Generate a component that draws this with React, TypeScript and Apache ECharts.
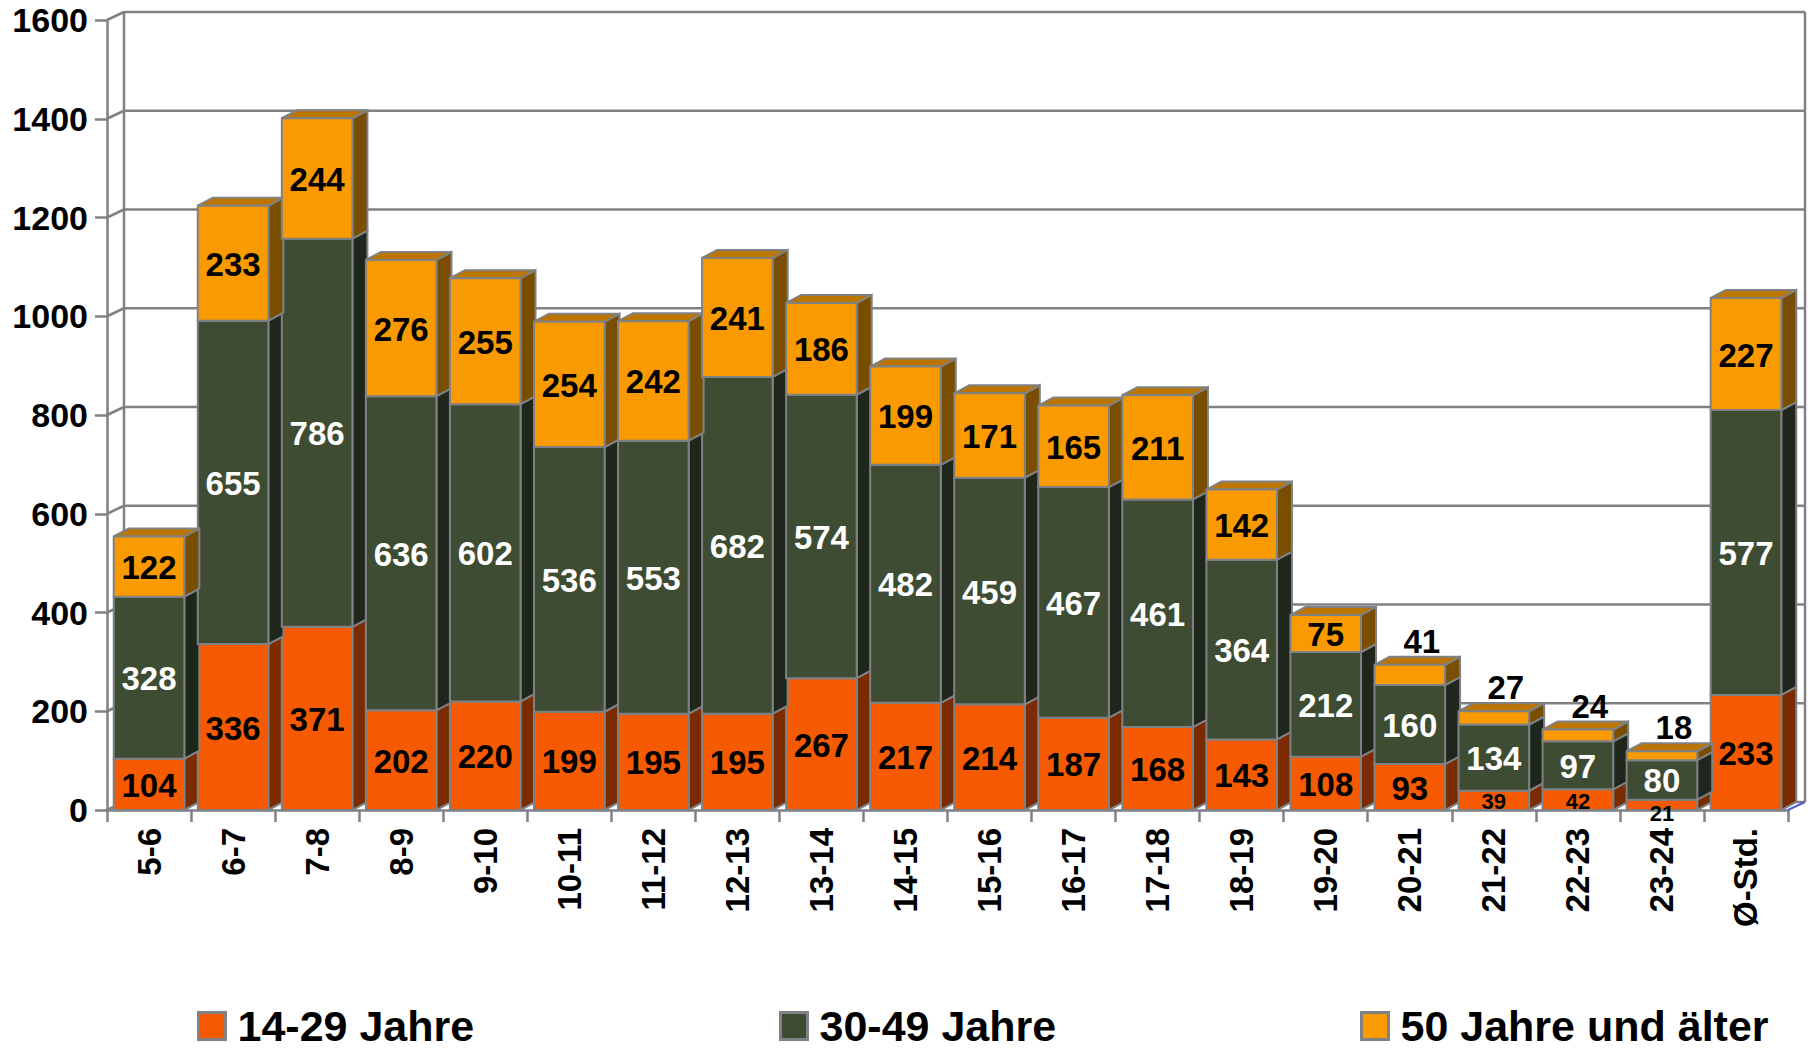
import React, { useEffect, useRef } from "react";
import * as echarts from "echarts";

const categories = ["5-6","6-7","7-8","8-9","9-10","10-11","11-12","12-13","13-14","14-15","15-16","16-17","17-18","18-19","19-20","20-21","21-22","22-23","23-24","Ø-Std."];
const age14to29 = [104,336,371,202,220,199,195,195,267,217,214,187,168,143,108,93,39,42,21,233];
const age30to49 = [328,655,786,636,602,536,553,682,574,482,459,467,461,364,212,160,134,97,80,577];
const age50plus = [122,233,244,276,255,254,242,241,186,199,171,165,211,142,75,41,27,24,18,227];
const seriesNames = ["14-29 Jahre", "30-49 Jahre", "50 Jahre und älter"];
const yTicks = [0,200,400,600,800,1000,1200,1400,1600];

const FONT = "'Liberation Sans', Arial, sans-serif";
const GRID = "#7f8184";
const WX = 17, WY = -8;   // wall depth
const BX = 15, BY = -8;   // bar depth

const styles = [
  { front: "#F55A00", side: "#7A2C00", top: "#B04000", label: "#000000" },
  { front: "#3E4C33", side: "#1F271C", top: "#2A3524", label: "#FFFFFF" },
  { front: "#F99B00", side: "#7A4E00", top: "#BC7600", label: "#000000" },
];

function buildSeriesData(k: number) {
  const all = [age14to29, age30to49, age50plus];
  return categories.map((_, i) => {
    let base = 0;
    for (let j = 0; j < k; j++) base += all[j][i];
    return [i, base, all[k][i]];
  });
}

function makeBarRender(k: number) {
  const st = styles[k];
  return (params: any, api: any) => {
    const i = api.value(0);
    const base = api.value(1);
    const val = api.value(2);
    const pB = api.coord([i, base]);
    const pT = api.coord([i, base + val]);
    const bw = api.size([1, 0])[0] * 0.84;
    const xl = pB[0] - bw / 2;
    const xr = pB[0] + bw / 2;
    const yb = pB[1];
    const yt = pT[1];
    const isTop = k === 2;
    const children: any[] = [];
    children.push({
      type: "polygon",
      shape: { points: [[xr, yb], [xr + BX, yb + BY], [xr + BX, yt + BY], [xr, yt]] },
      style: { fill: st.side, stroke: GRID, lineWidth: 2 },
    });
    if (isTop) {
      children.push({
        type: "polygon",
        shape: { points: [[xl, yt], [xr, yt], [xr + BX, yt + BY], [xl + BX, yt + BY]] },
        style: { fill: st.top, stroke: GRID, lineWidth: 2 },
      });
    }
    children.push({
      type: "rect",
      shape: { x: xl, y: yt, width: bw, height: yb - yt },
      style: { fill: st.front, stroke: GRID, lineWidth: 2 },
    });
    const h = yb - yt;
    const cx = pB[0];
    if (h >= 26) {
      children.push({
        type: "text",
        x: cx, y: (yb + yt) / 2 + 1,
        style: { text: String(val), fill: st.label, fontSize: 33, fontWeight: "bold", fontFamily: FONT, align: "center", verticalAlign: "middle" },
      });
    } else if (k === 2) {
      children.push({
        type: "text",
        x: cx + 12, y: yt + BY + 1,
        style: { text: String(val), fill: "#000", fontSize: 33, fontWeight: "bold", fontFamily: FONT, align: "center", verticalAlign: "bottom" },
      });
    } else {
      const yy = h < 15 ? yb + 3 : Math.max((yb + yt) / 2 + 1, yb - 9);
      children.push({
        type: "text",
        x: cx, y: yy,
        style: { text: String(val), fill: st.label, fontSize: 22, fontWeight: "bold", fontFamily: FONT, align: "center", verticalAlign: "middle" },
      });
    }
    return { type: "group", children };
  };
}

function renderWall(params: any, api: any) {
  const cs = params.coordSys;
  const v = api.value(1);
  const y = api.coord([0, v])[1];
  const x0 = cs.x;
  const x1 = cs.x + cs.width;
  const children: any[] = [
    { type: "line", shape: { x1: x0, y1: y, x2: x0 + WX, y2: y + WY }, style: { stroke: GRID, lineWidth: 2.5 } },
    { type: "line", shape: { x1: x0 + WX, y1: y + WY, x2: x1 + WX, y2: y + WY }, style: { stroke: GRID, lineWidth: 2.5 } },
  ];
  if (params.dataIndex === 0) {
    const yTop = cs.y;
    children.push({ type: "line", shape: { x1: x0 + WX, y1: y + WY, x2: x0 + WX, y2: yTop + WY }, style: { stroke: GRID, lineWidth: 2.5 } });
    children.push({ type: "line", shape: { x1: x1 + WX, y1: y + WY, x2: x1 + WX, y2: yTop + WY }, style: { stroke: GRID, lineWidth: 2.5 } });
    children.push({ type: "line", shape: { x1: x1, y1: y, x2: x1 + WX, y2: y + WY }, style: { stroke: "#5b5bd0", lineWidth: 2 } });
  }
  return { type: "group", children };
}

export default function App() {
  const ref = useRef<HTMLDivElement>(null);
  useEffect(() => {
    if (!ref.current) return;
    const chart = echarts.init(ref.current, undefined, { renderer: "svg" });
    const legendBase = {
      top: 1003,
      padding: 0,
      itemWidth: 27,
      itemHeight: 27,
      icon: "rect",
      selectedMode: false,
      textStyle: { fontSize: 43, lineHeight: 46, fontWeight: "bold", fontFamily: FONT, color: "#000", padding: [0, 0, 0, 7] },
    };
    const legendLefts = [197, 779, 1360];
    chart.setOption({
      animation: false,
      backgroundColor: "#ffffff",
      grid: { left: 107, right: 28, top: 20, bottom: 240, containLabel: false },
      legend: seriesNames.map((n, k) => ({
        ...legendBase,
        left: legendLefts[k],
        data: [{ name: n, itemStyle: { color: styles[k].front, borderColor: GRID, borderWidth: 3 } }],
      })),
      xAxis: {
        type: "category",
        data: categories,
        boundaryGap: true,
        axisLine: { show: true, lineStyle: { color: GRID, width: 2.5 } },
        axisTick: { show: true, interval: 0, length: 12, lineStyle: { color: GRID, width: 2.5 } },
        axisLabel: { interval: 0, rotate: 90, margin: 18, fontSize: 33, fontWeight: "bold", fontFamily: FONT, color: "#000" },
        splitLine: { show: false },
      },
      yAxis: {
        type: "value",
        min: 0,
        max: 1600,
        interval: 200,
        axisLine: { show: true, lineStyle: { color: GRID, width: 2.5 } },
        axisTick: { show: true, length: 12, lineStyle: { color: GRID, width: 2.5 } },
        axisLabel: { margin: 19, fontSize: 34, fontWeight: "bold", fontFamily: FONT, color: "#000", formatter: (v: number) => String(v) },
        splitLine: { show: false },
      },
      series: [
        {
          type: "custom",
          name: "wall",
          silent: true,
          z: 1,
          renderItem: renderWall,
          data: yTicks.map((v) => [0, v]),
        },
        ...[0, 1, 2].map((k) => ({
          type: "custom",
          name: seriesNames[k],
          silent: true,
          z: 2 + k,
          itemStyle: { color: styles[k].front },
          renderItem: makeBarRender(k),
          encode: { x: 0, y: 1 },
          data: buildSeriesData(k),
        })),
      ],
    });
    return () => chart.dispose();
  }, []);
  return <div ref={ref} style={{ position: "fixed", left: 0, top: 0, width: 1816, height: 1050, background: "#fff" }} />;
}
